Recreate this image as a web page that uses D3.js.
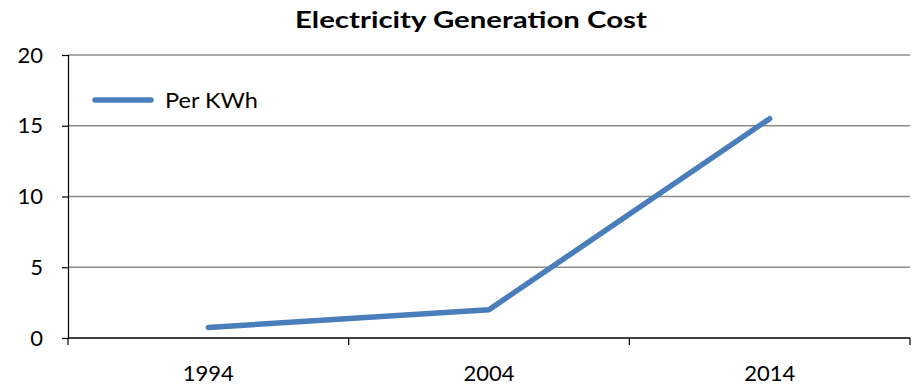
<!DOCTYPE html>
<html>
<head>
<meta charset="utf-8">
<script src="https://cdn.jsdelivr.net/npm/d3@7"></script>
<style>
  html, body { margin: 0; padding: 0; background: #fff; }
  svg { display: block; }
  text { font-family: Lato, "Open Sans", "Liberation Sans", sans-serif; fill: #000; }
</style>
</head>
<body>
<svg id="chart" width="912" height="386"></svg>
<script>
// Cost of generating one kWh, by year
const years = ["1994", "2004", "2014"];
const perKWh = [0.75, 2.0, 15.5];
const yTicks = [0, 5, 10, 15, 20];
const seriesName = "Per KWh";
const chartTitle = "Electricity Generation Cost";

const svg = d3.select("#chart");
const margin = { left: 68, right: 2, top: 55, bottom: 48 };
const W = 912, H = 386;

const x = d3.scaleBand().domain(years).range([margin.left, W - margin.right]);
const y = d3.scaleLinear().domain([0, 20]).range([H - margin.bottom, margin.top]);

// horizontal gridlines
svg.append("g")
  .selectAll("line")
  .data(yTicks.filter(t => t > 0))
  .join("line")
  .attr("x1", margin.left).attr("x2", W - margin.right)
  .attr("y1", d => y(d)).attr("y2", d => y(d))
  .attr("stroke", "#8c8c8c").attr("stroke-width", 1.5);

// y axis
const yAxis = svg.append("g")
  .attr("transform", `translate(${margin.left},0)`)
  .call(d3.axisLeft(y).tickValues(yTicks).tickSize(6).tickPadding(19));
yAxis.select(".domain").attr("stroke", "#000").attr("stroke-width", 1.2);
yAxis.selectAll(".tick line").attr("stroke", "#000").attr("stroke-width", 1.2);
yAxis.selectAll(".tick text").attr("font-size", 22).attr("font-family", "Lato, sans-serif").attr("fill", "#000");

// x axis: baseline with tick marks at category boundaries
const xAxisG = svg.append("g").attr("transform", `translate(0,${y(0)})`);
xAxisG.append("line")
  .attr("x1", margin.left).attr("x2", W - margin.right)
  .attr("stroke", "#000").attr("stroke-width", 1.5);
const bounds = years.map(d => x(d)).concat([x(years[years.length - 1]) + x.bandwidth()]);
xAxisG.selectAll("line.tk")
  .data(bounds)
  .join("line").attr("class", "tk")
  .attr("x1", d => d).attr("x2", d => d)
  .attr("y1", 0).attr("y2", 7)
  .attr("stroke", "#000").attr("stroke-width", 1.2);
xAxisG.selectAll("text")
  .data(years)
  .join("text")
  .attr("x", d => x(d) + x.bandwidth() / 2)
  .attr("y", 43)
  .attr("text-anchor", "middle")
  .attr("font-size", 22)
  .text(d => d);

// series line
const line = d3.line()
  .x((d, i) => x(years[i]) + x.bandwidth() / 2)
  .y(d => y(d));
svg.append("path")
  .datum(perKWh)
  .attr("d", line)
  .attr("fill", "none")
  .attr("stroke", "#4a7ebb")
  .attr("stroke-width", 5.5)
  .attr("stroke-linecap", "round")
  .attr("stroke-linejoin", "round");

// legend
const lg = svg.append("g").attr("transform", "translate(95,100)");
lg.append("line")
  .attr("x1", 0).attr("x2", 56)
  .attr("stroke", "#4a7ebb").attr("stroke-width", 5.5)
  .attr("stroke-linecap", "round");
lg.append("text")
  .attr("x", 70).attr("y", 8)
  .attr("font-size", 22)
  .attr("textLength", 93)
  .attr("lengthAdjust", "spacingAndGlyphs")
  .text(seriesName);

// title
svg.append("text")
  .attr("x", 471).attr("y", 28)
  .attr("text-anchor", "middle")
  .attr("font-size", 22)
  .attr("font-weight", "bold")
  .attr("textLength", 352)
  .attr("lengthAdjust", "spacingAndGlyphs")
  .text(chartTitle);
</script>
</body>
</html>
